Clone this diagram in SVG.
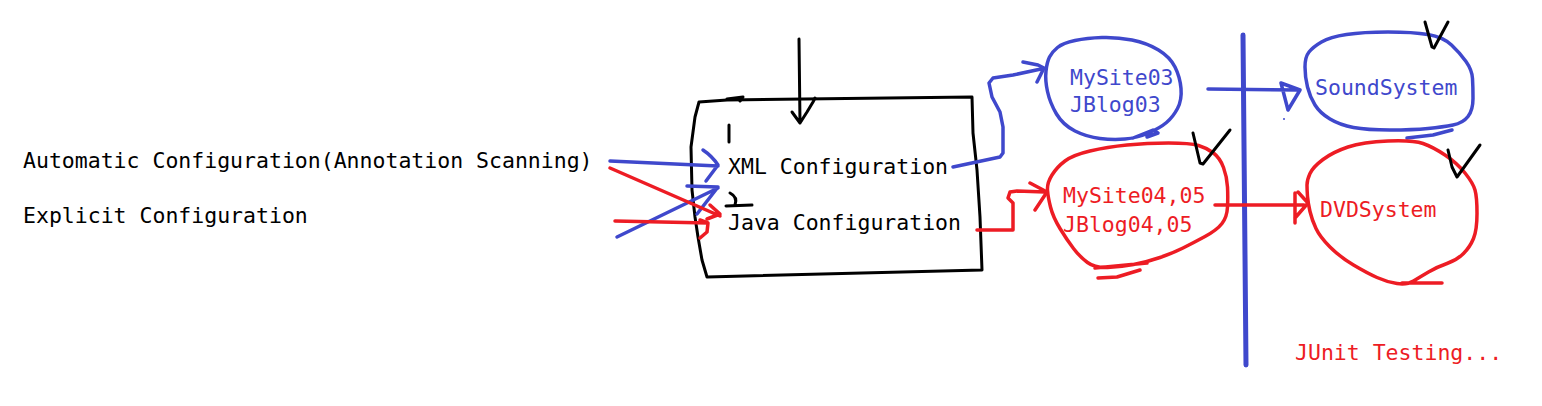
<svg xmlns="http://www.w3.org/2000/svg" width="1542" height="406" viewBox="0 0 1542 406">
<style>
text{font-family:"DejaVu Sans Mono","Liberation Mono",monospace;font-size:21.5px}
.k{fill:#000}
.bt{fill:#3f48cc}
.rt{fill:#ed1c24}
.s{fill:none;stroke-linecap:round;stroke-linejoin:round}
.bk{stroke:#000;stroke-width:3}
.bl{stroke:#3f48cc;stroke-width:3.5}
.rd{stroke:#ed1c24;stroke-width:3.5}
</style>
<rect width="1542" height="406" fill="#fff"/>
<g id="label-automatic"><text class="k" x="23" y="168">Automatic Configuration(Annotation Scanning)</text></g>
<g id="label-explicit"><text class="k" x="23" y="223">Explicit Configuration</text></g>
<g id="config-box">
<path class="s bk" d="M699,102 L727,100 L972,97 L973,133 L977,170 L980,217 L982,270 L707,277 L702,260 L698,237 L695,217 L692,190 L691,147 L695,117 L699,102 Z"/>
<path class="s bk" d="M727,99 L743,97 L740,101"/>
<path class="s bk" d="M729,125 L729,142"/>
<path class="s bk" d="M730,193 Q738,197 735,205 M726,206 L752,205"/>
<text class="k" x="728" y="174">XML Configuration</text>
<text class="k" x="728" y="230">Java Configuration</text>
</g>
<g id="mysite03">
<path class="s bl" d="M1046,71 Q1047,62 1049.5,57 Q1052,52 1057.5,47.5 Q1063,43 1075,40.5 Q1087,38 1102,37.5 Q1117,37 1132,40 Q1147,43 1158.5,50 Q1170,57 1175,67 Q1180,77 1181,88.5 Q1182,100 1177.5,108.5 Q1173,117 1166.5,122.5 Q1160,128 1148.5,133 Q1137,138 1125,139 Q1113,140 1100,138.5 Q1087,137 1075,131 Q1063,125 1056.5,114 Q1050,103 1047.5,91.5 Q1045,80 1046,71 M1133,138 L1153,130 L1158,133 L1147,137"/>
<text class="bt" x="1070" y="85">MySite03</text>
<text class="bt" x="1070" y="112">JBlog03</text>
</g>
<g id="mysite04">
<path class="s rd" d="M1047.5,190 Q1047,183 1052,175 Q1057,167 1065,161 Q1073,155 1090,151 Q1107,147 1127,145 Q1147,143 1168.5,143 Q1190,143 1198.5,145.5 Q1207,148 1213.5,153 Q1220,158 1223.5,167.5 Q1227,177 1227.5,187 Q1228,197 1227.5,207 Q1227,217 1222,223.5 Q1217,230 1205,236.5 Q1193,243 1183,248 Q1173,253 1160,257.5 Q1147,262 1133.5,264.5 Q1120,267 1107.5,267.5 Q1095,268 1087.5,262.5 Q1080,257 1073.5,248.5 Q1067,240 1060,228.5 Q1053,217 1050.5,207 Q1048,197 1047.5,190 M1095,268 L1147,263 M1098,278 L1117,277 L1140,270"/>
<path class="s bk" d="M1193,133 L1200,163 L1203,164 L1230,130"/>
<text class="rt" x="1063" y="203">MySite04,05</text>
<text class="rt" x="1063" y="232">JBlog04,05</text>
</g>
<g id="soundsystem">
<path class="s bl" d="M1305,67 Q1305,57 1309,52 Q1313,47 1321.5,42 Q1330,37 1346.5,34.5 Q1363,32 1388,32 Q1413,32 1428,34.5 Q1443,37 1451.5,45 Q1460,53 1466,61.5 Q1472,70 1472.5,78.5 Q1473,87 1473,98.5 Q1473,110 1468,116.5 Q1463,123 1453,125 Q1443,127 1428,128.5 Q1413,130 1390,130 Q1367,130 1353.5,127.5 Q1340,125 1330,119 Q1320,113 1315,105 Q1310,97 1307.5,87 Q1305,77 1305,67 M1407,138 L1433,135 L1452,130"/>
<path class="s bk" d="M1425,22 L1432,47 L1434,48 L1448,22"/>
<text class="bt" x="1315" y="95">SoundSystem</text>
</g>
<g id="dvdsystem">
<path class="s rd" d="M1307.5,196.5 Q1307,190 1307,185 Q1307,180 1310,173.5 Q1313,167 1323,159.5 Q1333,152 1348,147 Q1363,142 1388,141 Q1413,140 1423,143.5 Q1433,147 1445,155 Q1457,163 1465,173 Q1473,183 1475,190 Q1477,197 1477,213.5 Q1477,230 1473.5,238.5 Q1470,247 1463.5,253.5 Q1457,260 1447,263.5 Q1437,267 1428.5,272 Q1420,277 1413.5,281 Q1407,285 1397,283.5 Q1387,282 1377,277.5 Q1367,273 1353.5,265 Q1340,257 1330,247 Q1320,237 1316,228.5 Q1312,220 1310,211.5 Q1308,203 1307.5,196.5 M1402,283 L1442,283"/>
<path class="s bk" d="M1448,150 L1452,167 L1457,177 L1480,145"/>
<text class="rt" x="1320" y="217">DVDSystem</text>
</g>
<g id="junit"><text class="rt" x="1295" y="360">JUnit Testing...</text></g>
<g id="connectors">
<path class="s bk" d="M799,39 L800,123 M792,112 L800,123 L807,112 L813,102 L815,98"/>
<path class="s bl" d="M610,161 L718,166 M703,150 Q712,156 718,165 L706,181"/>
<path class="s bl" d="M617,237 L718,188 M687,186 L718,187 L697,214"/>
<path class="s rd" d="M610,168 L720,216 M710,205 L720,214 L707,219"/>
<path class="s rd" d="M615,221 L708,223 M700,220 L708,223 L707,232 L700,238"/>
<path class="s bl" d="M953,167 L1000,157 L1003,153 L1003,127 L1000,112 L992,97 L989,83 L993,78 L1013,75 L1041,69 M1023,62 L1038,65 L1044,68 L1037,82"/>
<path class="s rd" d="M977,230 L1013,230 L1013,203 L1008,198 L1010,192 L1017,191 L1045,192 M1030,183 L1047,192 L1035,210"/>
<path class="s" stroke="#3f48cc" stroke-width="5" d="M1243,35 L1246,365"/>
<path class="s bl" d="M1208,89 L1298,90 M1281,83 L1300,90 L1288,110 Z"/>
<circle cx="1284" cy="119" r="1" fill="#3f48cc"/>
<path class="s rd" d="M1215,205 L1304,205 M1295,193 L1295,223 M1298,192 L1308,203 L1295,218"/>
</g>
</svg>
